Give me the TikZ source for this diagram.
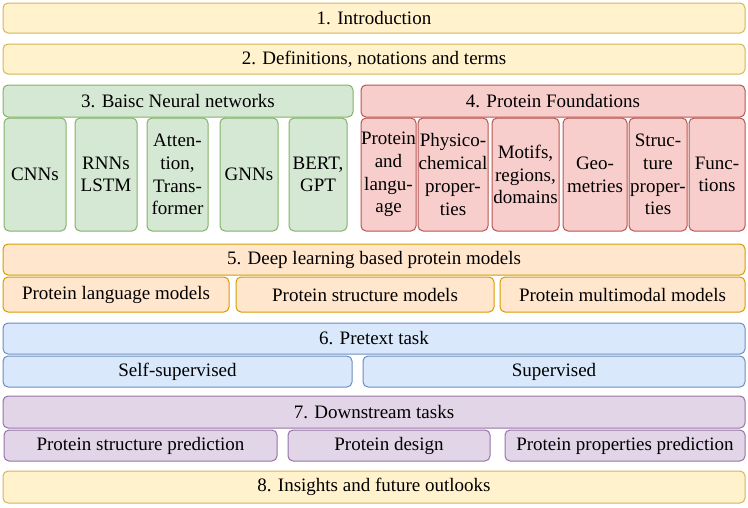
\documentclass[tikz,border=0pt]{standalone}
\usepackage{fontspec}
\setmainfont{Liberation Serif}
\usetikzlibrary{positioning}

\definecolor{yelfill}{HTML}{FFF2CC}
\definecolor{yeldraw}{HTML}{D6B656}
\definecolor{grnfill}{HTML}{D5E8D4}
\definecolor{grndraw}{HTML}{82B366}
\definecolor{redfill}{HTML}{F8CECC}
\definecolor{reddraw}{HTML}{B85450}
\definecolor{orgfill}{HTML}{FFE6CC}
\definecolor{orgdraw}{HTML}{D79B00}
\definecolor{blufill}{HTML}{DAE8FC}
\definecolor{bludraw}{HTML}{6C8EBF}
\definecolor{purfill}{HTML}{E1D5E7}
\definecolor{purdraw}{HTML}{9673A6}

\begin{document}
\begin{tikzpicture}[x=1pt, y=-1pt,
                    box/.style={draw, rounded corners=5pt, line width=1pt, inner sep=0pt,
                                align=center, font=\fontsize{19}{22.7}\selectfont},
                    ybox/.style={box, fill=yelfill, draw=yeldraw},
                    gbox/.style={box, fill=grnfill, draw=grndraw},
                    rbox/.style={box, fill=redfill, draw=reddraw},
                    obox/.style={box, fill=orgfill, draw=orgdraw},
                    bbox/.style={box, fill=blufill, draw=bludraw},
                    pbox/.style={box, fill=purfill, draw=purdraw}
                    ]
    \useasboundingbox (0,0) rectangle (748,507);
    % sections 1 and 2
    \node[ybox, minimum width=742, minimum height=30] at (374,18) (intro) {1. Introduction};
    \node[ybox, minimum width=742, minimum height=30] at (374,59) (defs) {2. Definitions, notations and terms};
    % section 3
    \node[gbox, minimum width=350, minimum height=32] at (178,101) (basic) {3. Baisc Neural networks};
    \node[gbox, minimum width=62, minimum height=113] at (35,174.5) (cnn) {CNNs};
    \node[gbox, minimum width=62, minimum height=113] at (106,174.5) (rnn) {RNNs\\LSTM};
    \node[gbox, minimum width=61, minimum height=113] at (177.5,174.5) (attn) {Atten-\\tion,\\Trans-\\former};
    \node[gbox, minimum width=58, minimum height=113] at (249,174.5) (gnn) {GNNs};
    \node[gbox, minimum width=58, minimum height=113] at (318,174.5) (bert) {BERT,\\GPT};
    % section 4
    \node[rbox, minimum width=384, minimum height=32] at (553,101) (found) {4. Protein Foundations};
    \node[rbox, minimum width=55, minimum height=113] at (388.5,174.5) (lang) {Protein\\and\\langu-\\age};
    \node[rbox, minimum width=70, minimum height=113] at (453,174.5) (phys) {Physico-\\chemical\\proper-\\ties};
    \node[rbox, minimum width=67, minimum height=113] at (525.5,174.5) (motif) {Motifs,\\regions,\\domains};
    \node[rbox, minimum width=64, minimum height=113] at (595,174.5) (geo) {Geo-\\metries};
    \node[rbox, minimum width=58, minimum height=113] at (658,174.5) (struc) {Struc-\\ture\\proper-\\ties};
    \node[rbox, minimum width=56, minimum height=113] at (717,174.5) (func) {Func-\\tions};
    % section 5
    \node[obox, minimum width=742, minimum height=31] at (374,259.5) (deep) {5. Deep learning based protein models};
    \node[obox, minimum width=226, minimum height=35] at (116,294.5) (plm) {Protein language models};
    \node[obox, minimum width=258, minimum height=35] at (365,294.5) (psm) {Protein structure models};
    \node[obox, minimum width=245, minimum height=35] at (622.5,294.5) (pmm) {Protein multimodal models};
    % section 6
    \node[bbox, minimum width=742, minimum height=31] at (374,338.5) (pretext) {6. Pretext task};
    \node[bbox, minimum width=349, minimum height=31] at (177.5,371.5) (selfsup) {Self-supervised};
    \node[bbox, minimum width=382, minimum height=31] at (554,371.5) (sup) {Supervised};
    % section 7
    \node[pbox, minimum width=742, minimum height=32] at (374,412) (down) {7. Downstream tasks};
    \node[pbox, minimum width=273, minimum height=31] at (140.5,445.5) (pred) {Protein structure prediction};
    \node[pbox, minimum width=202, minimum height=31] at (389,445.5) (design) {Protein design};
    \node[pbox, minimum width=240, minimum height=31] at (625,445.5) (props) {Protein properties prediction};
    % section 8
    \node[ybox, minimum width=742, minimum height=32] at (374,487) (outlook) {8. Insights and future outlooks};
\end{tikzpicture}
\end{document}
